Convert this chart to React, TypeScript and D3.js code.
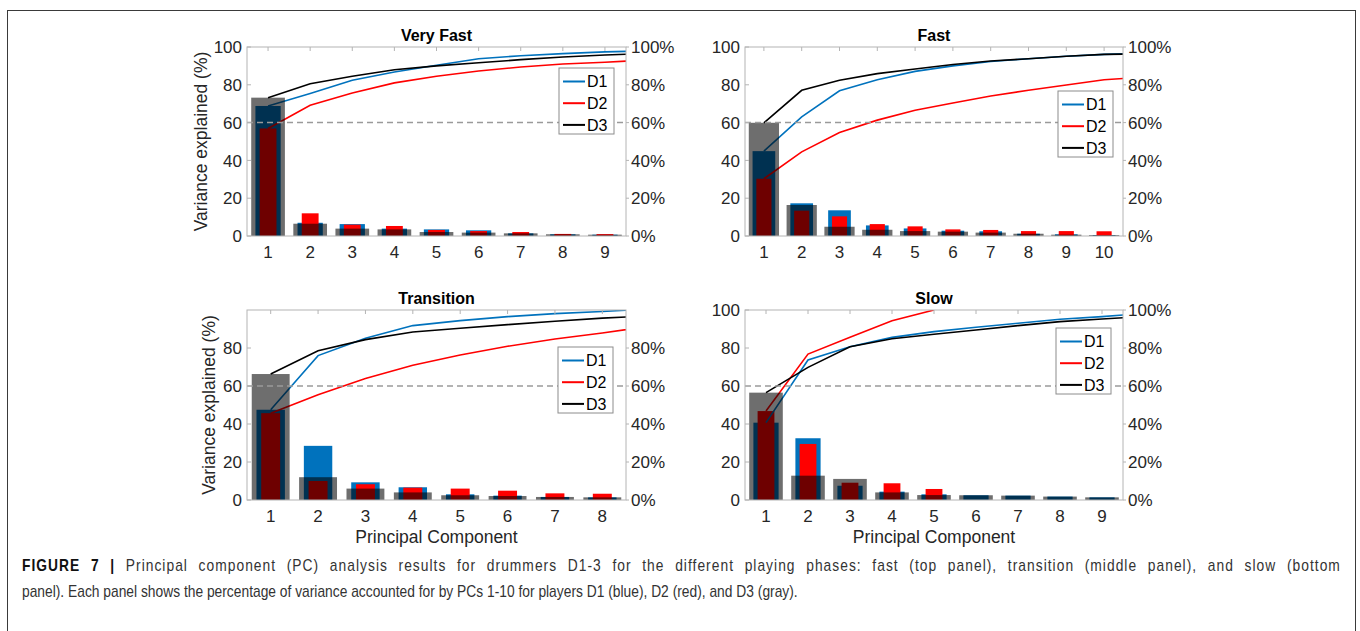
import * as d3 from "d3";
import { useLayoutEffect, useRef, useState } from "react";

// variance explained per principal component (%)
const veryFastPCs = [1, 2, 3, 4, 5, 6, 7, 8, 9];
const veryFastD1 = [68.8, 7.0, 6.3, 3.9, 3.5, 3.0, 1.4, 0.9, 0.7];
const veryFastD2 = [56.9, 12.0, 6.0, 5.3, 3.2, 2.6, 2.1, 1.1, 1.0];
const veryFastD3 = [73.2, 6.5, 3.9, 3.5, 2.1, 1.8, 1.4, 0.9, 0.7];
const veryFastCumD1 = [68.8, 75.4, 82.4, 86.8, 90.3, 93.8, 95.4, 96.5, 97.4, 98.0];
const veryFastCumD2 = [56.9, 69.2, 75.7, 81.0, 84.5, 87.3, 89.4, 91.0, 91.9, 93.2];
const veryFastCumD3 = [73.2, 80.6, 84.5, 88.0, 90.0, 91.7, 93.3, 94.7, 95.8, 96.6];

const fastPCs = [1, 2, 3, 4, 5, 6, 7, 8, 9, 10];
const fastD1 = [44.9, 17.3, 13.6, 5.6, 4.0, 2.8, 2.5, 1.2, 0.9, 0.5];
const fastD2 = [30.3, 13.4, 10.4, 6.3, 5.1, 3.5, 3.2, 2.6, 2.6, 2.5];
const fastD3 = [59.9, 16.4, 4.9, 3.3, 2.6, 2.3, 1.8, 1.2, 0.7, 0.5];
const fastCumD1 = [44.9, 63.0, 76.8, 82.7, 87.1, 90.0, 92.3, 93.8, 95.1, 96.1, 96.6];
const fastCumD2 = [30.3, 44.5, 54.8, 61.3, 66.5, 70.4, 74.1, 77.1, 79.9, 82.7, 84.0];
const fastCumD3 = [59.9, 77.1, 82.4, 85.9, 88.4, 90.7, 92.6, 93.8, 95.1, 96.1, 96.4];

const transitionPCs = [1, 2, 3, 4, 5, 6, 7, 8];
const transitionD1 = [47.5, 28.5, 9.3, 6.7, 3.0, 2.3, 1.6, 1.4];
const transitionD2 = [45.7, 10.0, 8.3, 6.5, 6.0, 4.9, 3.5, 3.3];
const transitionD3 = [66.3, 12.0, 6.0, 4.0, 2.5, 2.1, 1.6, 1.4];
const transitionCumD1 = [47.5, 76.0, 85.1, 91.8, 94.4, 96.5, 98.1, 99.2, 100.5];
const transitionCumD2 = [45.7, 55.4, 64.0, 70.9, 76.3, 80.9, 84.7, 87.9, 91.4];
const transitionCumD3 = [66.3, 78.6, 84.4, 88.4, 90.4, 92.3, 94.1, 95.7, 96.9];

const slowPCs = [1, 2, 3, 4, 5, 6, 7, 8, 9];
const slowD1 = [40.7, 32.5, 7.5, 4.4, 3.0, 2.5, 2.3, 1.8, 1.4];
const slowD2 = [46.8, 29.5, 9.1, 8.8, 5.8];
const slowD3 = [56.5, 12.8, 11.1, 4.0, 2.6, 2.5, 2.3, 1.8, 1.4];
const slowCumD1 = [40.7, 73.7, 80.7, 85.6, 88.6, 90.9, 93.0, 95.1, 96.5, 98.2];
const slowCumD2 = [46.8, 76.8, 85.6, 94.4, 100];
const slowCumD3 = [56.5, 69.8, 80.7, 84.9, 87.2, 89.5, 91.8, 93.9, 95.3, 96.6];

const fullTicks = [0, 20, 40, 60, 80, 100];
const shortTicks = [0, 20, 40, 60, 80];
const threshold = 60;
const players = ["D1", "D2", "D3"];

const captionBold = "FIGURE 7 | ";
const captionLine1 =
  "Principal component (PC) analysis results for drummers D1-3 for the different playing phases: fast (top panel), transition (middle panel), and slow (bottom";
const captionLine2 =
  "panel). Each panel shows the percentage of variance accounted for by PCs 1-10 for players D1 (blue), D2 (red), and D3 (gray).";

const BLUE = "#0072BD";
const RED = "#FF0000";
const FONT = "'Liberation Sans', Arial, Helvetica, sans-serif";
const TXT = "#262626";
const AXIS = "#b4b4b4";

const panels = [
  {
    id: "vf", title: "Very Fast", pcs: veryFastPCs,
    d1: veryFastD1, d2: veryFastD2, d3: veryFastD3,
    c1: veryFastCumD1, c2: veryFastCumD2, c3: veryFastCumD3,
    ticks: fullTicks, x0: 247, x1: 626, y0: 47, y1: 236,
    yLabel: true, xLabel: false, legend: [559, 68], yLabelX: 201,
  },
  {
    id: "f", title: "Fast", pcs: fastPCs,
    d1: fastD1, d2: fastD2, d3: fastD3,
    c1: fastCumD1, c2: fastCumD2, c3: fastCumD3,
    ticks: fullTicks, x0: 745, x1: 1123, y0: 47, y1: 236,
    yLabel: false, xLabel: false, legend: [1058, 91], yLabelX: 0,
  },
  {
    id: "t", title: "Transition", pcs: transitionPCs,
    d1: transitionD1, d2: transitionD2, d3: transitionD3,
    c1: transitionCumD1, c2: transitionCumD2, c3: transitionCumD3,
    ticks: shortTicks, x0: 247, x1: 626, y0: 310, y1: 500,
    yLabel: true, xLabel: true, legend: [558, 347], yLabelX: 209,
  },
  {
    id: "s", title: "Slow", pcs: slowPCs,
    d1: slowD1, d2: slowD2, d3: slowD3,
    c1: slowCumD1, c2: slowCumD2, c3: slowCumD3,
    ticks: fullTicks, x0: 745, x1: 1123, y0: 310, y1: 500,
    yLabel: false, xLabel: true, legend: [1056, 328], yLabelX: 0,
  },
];

function Panel({ p }: { p: any }) {
  const x = d3.scaleLinear().domain([0.5, p.pcs.length + 0.5]).range([p.x0, p.x1]);
  const y = d3.scaleLinear().domain([0, 100]).range([p.y1, p.y0]);
  const unit = x(1) - x(0);
  const line = d3
    .line<number>()
    .x((_, i) => x(i + 1))
    .y((d) => y(d));

  const bars = (vals: number[], w: number, fill: string, op = 1) =>
    vals.map((v, i) => (
      <rect
        key={i}
        x={x(p.pcs[i]) - (unit * w) / 2}
        y={y(v)}
        width={unit * w}
        height={y(0) - y(v)}
        fill={fill}
        fillOpacity={op}
      />
    ));

  const [lx, ly] = p.legend;
  const colors = [BLUE, RED, "#000"];
  const midY = (p.y0 + p.y1) / 2;

  return (
    <g fontFamily={FONT}>
      <defs>
        <clipPath id={`clip-${p.id}`}>
          <rect x={p.x0} y={p.y0} width={p.x1 - p.x0} height={p.y1 - p.y0} />
        </clipPath>
      </defs>
      <text x={(p.x0 + p.x1) / 2} y={p.y0 - 6} textAnchor="middle" fontWeight="bold" fontSize={16} fill="#000">
        {p.title}
      </text>

      <g clipPath={`url(#clip-${p.id})`}>
        {bars(p.d1, 0.6, BLUE)}
        {bars(p.d2, 0.4, RED)}
        <path d={line(p.c1) || ""} fill="none" stroke={BLUE} strokeWidth={1.6} />
        <path d={line(p.c2) || ""} fill="none" stroke={RED} strokeWidth={1.6} />
        <path d={line(p.c3) || ""} fill="none" stroke="#000" strokeWidth={1.6} />
        {bars(p.d3, 0.8, "#000", 0.57)}
        <line x1={p.x0} x2={p.x1} y1={y(threshold)} y2={y(threshold)} stroke="#9a9a9a" strokeWidth={1.5} strokeDasharray="6,4" />
      </g>

      {/* axes box */}
      <rect x={p.x0} y={p.y0} width={p.x1 - p.x0} height={p.y1 - p.y0} fill="none" stroke={AXIS} strokeWidth={1} />
      {p.pcs.map((pc: number) => (
        <line key={`tt${pc}`} x1={x(pc)} x2={x(pc)} y1={p.y0} y2={p.y0 + 4} stroke={AXIS} />
      ))}
      {p.ticks.map((t: number) => (
        <g key={`yt${t}`}>
          <line x1={p.x0} x2={p.x0 + 4} y1={y(t)} y2={y(t)} stroke={AXIS} />
          <line x1={p.x1} x2={p.x1 + 3} y1={y(t)} y2={y(t)} stroke={AXIS} />
          <text x={p.x0 - 5} y={y(t)} dy="0.36em" textAnchor="end" fontSize={17} fill={TXT}>
            {t}
          </text>
          <text x={p.x1 + 5} y={y(t)} dy="0.36em" textAnchor="start" fontSize={17} fill={TXT}>
            {`${t}%`}
          </text>
        </g>
      ))}
      {p.pcs.map((pc: number) => (
        <text key={`xl${pc}`} x={x(pc)} y={p.y1 + 16} dy="0.36em" textAnchor="middle" fontSize={17} fill={TXT}>
          {pc}
        </text>
      ))}
      {p.yLabel && (
        <text transform={`translate(${p.yLabelX},${midY}) rotate(-90)`} dy="0.36em" textAnchor="middle" fontSize={17.5} fill={TXT}>
          Variance explained (%)
        </text>
      )}
      {p.xLabel && (
        <text x={(p.x0 + p.x1) / 2} y={p.y1 + 37} dy="0.36em" textAnchor="middle" fontSize={17.5} fill={TXT}>
          Principal Component
        </text>
      )}

      {/* legend */}
      <rect x={lx} y={ly} width={55} height={66} fill="#fff" stroke="#8c8c8c" strokeWidth={1} />
      {players.map((name, i) => (
        <g key={name}>
          <line x1={lx + 4} x2={lx + 26} y1={ly + 13.5 + i * 21.7} y2={ly + 13.5 + i * 21.7} stroke={colors[i]} strokeWidth={2} />
          <text x={lx + 28} y={ly + 13.5 + i * 21.7} dy="0.36em" fontSize={16} fill="#000">
            {name}
          </text>
        </g>
      ))}
    </g>
  );
}

// justified first line, natural second line, both in a narrowed sans
function Caption() {
  const l1 = useRef<SVGTextElement>(null);
  const l2 = useRef<SVGTextElement>(null);
  const [fit, setFit] = useState({ s: 0.8, ws: 0, ls: 0 });

  useLayoutEffect(() => {
    if (!l1.current || !l2.current) return;
    const w1 = l1.current.getComputedTextLength();
    const w2 = l2.current.getComputedTextLength();
    const s = 775 / w2;
    const full = captionBold + captionLine1;
    const spaces = full.split(" ").length - 1;
    const extra = Math.max(0, 1318 / s - w1);
    // split the slack between letters and word gaps
    setFit({ s, ws: (extra * 0.45) / spaces, ls: (extra * 0.55) / full.length });
  }, []);

  const font = "'Liberation Sans', Arial, sans-serif";
  return (
    <g fontFamily={font} fontSize={16} fill="#333">
      <g transform={`translate(22,571) scale(${fit.s},1)`}>
        <text ref={l1} x={0} y={0} wordSpacing={fit.ws} letterSpacing={fit.ls}>
          <tspan fontWeight="bold" fill="#111">{captionBold}</tspan>
          <tspan>{captionLine1}</tspan>
        </text>
      </g>
      <g transform={`translate(22,597) scale(${fit.s},1)`}>
        <text ref={l2} x={0} y={0}>
          {captionLine2}
        </text>
      </g>
    </g>
  );
}

export default function App() {
  return (
    <svg width={1360} height={631} style={{ position: "absolute", left: 0, top: 0, background: "#fff" }}>
      <rect x={0} y={0} width={1360} height={631} fill="#fff" />
      <rect x={7.5} y={10.5} width={1348} height={700} fill="none" stroke="#3a3a3a" strokeWidth={1} />
      {panels.map((p) => (
        <Panel key={p.id} p={p} />
      ))}
      <Caption />
    </svg>
  );
}
